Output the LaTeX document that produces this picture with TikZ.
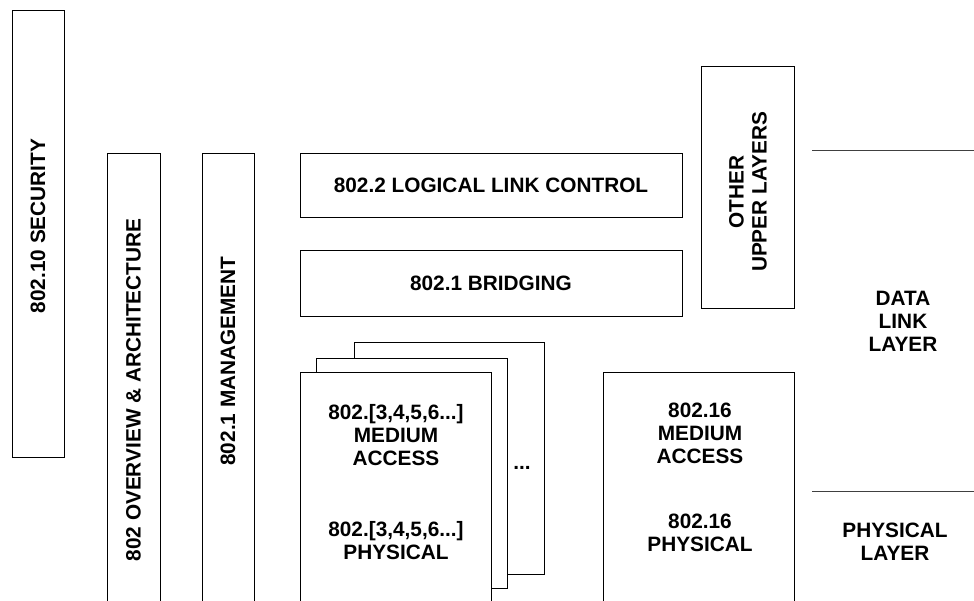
\documentclass[tikz,border=0pt]{standalone}
\usepackage{fontspec}
\setmainfont{Liberation Sans}
\begin{document}
\begin{tikzpicture}[x=1pt,y=-1pt,
  box/.style={draw=black, line width=1pt, inner sep=0pt, fill=white},
  lbl/.style={font=\fontsize{20.8}{23}\selectfont\bfseries, align=center, inner sep=0pt},
  rule/.style={draw=black!75, line width=1pt}]
\useasboundingbox (0,0) rectangle (974,600);
\clip (0,0) rectangle (974,600);
% vertical bars
\node[box, minimum width=52pt, minimum height=447pt] (sec) at (38,233.5) {};
\node[lbl, rotate=90] (sect) at (38,226) {802.10 SECURITY};
\node[box, minimum width=53pt, minimum height=457pt] (ovr) at (133.5,381.5) {};
\node[lbl, rotate=90] (ovrt) at (133.5,390) {802 OVERVIEW \& ARCHITECTURE};
\node[box, minimum width=52pt, minimum height=457pt] (mgt) at (228,381.5) {};
\node[lbl, rotate=90] (mgtt) at (228,361) {802.1 MANAGEMENT};
% LLC and bridging
\node[box, lbl, minimum width=382pt, minimum height=64pt] (llc) at (491,185) {802.2 LOGICAL LINK CONTROL};
\node[box, lbl, minimum width=382pt, minimum height=66pt] (brg) at (491,283) {802.1 BRIDGING};
% other upper layers
\node[box, minimum width=93pt, minimum height=242pt] (oul) at (747.5,187) {};
\node[lbl, rotate=90] (oult) at (748,192) {OTHER\\UPPER LAYERS};
% stacked MAC/PHY
\node[box, minimum width=190pt, minimum height=232pt] (stk3) at (449,458) {};
\node[box, minimum width=191pt, minimum height=230pt] (stk2) at (411.5,473) {};
\node[box, minimum width=191pt, minimum height=238pt] (stk1) at (395.5,491) {};
\node[lbl] (stkmac) at (396,435) {802.[3,4,5,6...]\\MEDIUM\\ACCESS};
\node[lbl] (stkphy) at (396,541) {802.[3,4,5,6...]\\PHYSICAL};
\node[lbl] (dots) at (522,468) {...};
% 802.16
\node[box, minimum width=191pt, minimum height=238pt] (w16) at (698.5,491) {};
\node[lbl] (w16mac) at (700,433) {802.16\\MEDIUM\\ACCESS};
\node[lbl] (w16phy) at (700,533) {802.16\\PHYSICAL};
% layer lines and labels
\coordinate (r1a) at (812,150);
\coordinate (r1b) at (974,150);
\coordinate (r2a) at (812,491);
\coordinate (r2b) at (974,491);
\draw[rule] (r1a) -- (r1b);
\draw[rule] (r2a) -- (r2b);
\node[lbl] (dll) at (903,321) {DATA\\LINK\\LAYER};
\node[lbl] (phl) at (895,542) {PHYSICAL\\LAYER};
\end{tikzpicture}
\end{document}
